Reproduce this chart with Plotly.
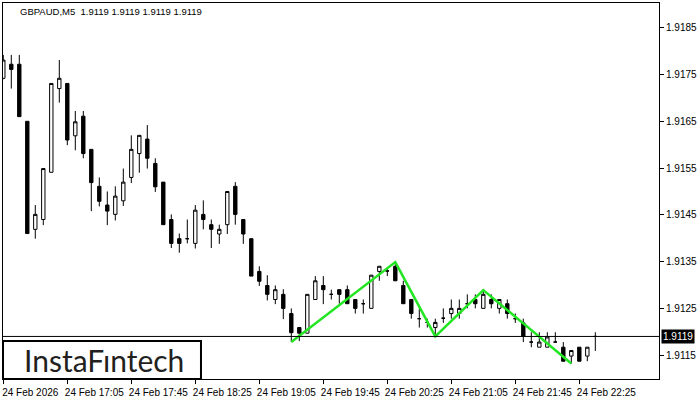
import pandas as pd
import plotly.graph_objects as go

# GBPAUD M5 candles, 24 Feb 2026 from 16:25
times = pd.date_range("2026-02-24 16:25", periods=75, freq="5min")

opens = [1.91742, 1.91772, 1.91772, 1.91650, 1.91419, 1.91440, 1.91541, 1.91720, 1.91731, 1.91619,
         1.91661, 1.91590, 1.91511, 1.91471, 1.91451, 1.91480, 1.91530, 1.91581, 1.91612, 1.91560,
         1.91520, 1.91440, 1.91399, 1.91399, 1.91389, 1.91451, 1.91429, 1.91409, 1.91429, 1.91511,
         1.91440, 1.91399, 1.91329, 1.91299, 1.91269, 1.91280, 1.91239, 1.91209, 1.91197, 1.91269,
         1.91299, 1.91280, 1.91290, 1.91290, 1.91269, 1.91260, 1.91250, 1.91329, 1.91330, 1.91340,
         1.91299, 1.91269, 1.91228, 1.91220, 1.91209, 1.91229, 1.91239, 1.91239, 1.91260, 1.91269,
         1.91250, 1.91269, 1.91250, 1.91260, 1.91228, 1.91219, 1.91178, 1.91167, 1.91167, 1.91178,
         1.91167, 1.91148, 1.91167, 1.91148, 1.91190]
highs = [1.91792, 1.91792, 1.91792, 1.91650, 1.91471, 1.91549, 1.91731, 1.91781, 1.91731, 1.91672,
         1.91672, 1.91590, 1.91530, 1.91500, 1.91511, 1.91549, 1.91620, 1.91620, 1.91642, 1.91571,
         1.91520, 1.91451, 1.91410, 1.91440, 1.91471, 1.91481, 1.91440, 1.91429, 1.91500, 1.91520,
         1.91440, 1.91399, 1.91340, 1.91321, 1.91299, 1.91291, 1.91250, 1.91209, 1.91280, 1.91319,
         1.91319, 1.91290, 1.91290, 1.91299, 1.91269, 1.91269, 1.91321, 1.91340, 1.91336, 1.91349,
         1.91309, 1.91269, 1.91250, 1.91228, 1.91228, 1.91250, 1.91269, 1.91269, 1.91280, 1.91280,
         1.91289, 1.91280, 1.91269, 1.91269, 1.91239, 1.91228, 1.91199, 1.91199, 1.91199, 1.91199,
         1.91178, 1.91160, 1.91167, 1.91167, 1.91199]
lows = [1.91740, 1.91720, 1.91660, 1.91410, 1.91399, 1.91428, 1.91541, 1.91690, 1.91599, 1.91588,
        1.91571, 1.91458, 1.91468, 1.91428, 1.91438, 1.91469, 1.91518, 1.91540, 1.91549, 1.91499,
        1.91429, 1.91379, 1.91369, 1.91389, 1.91378, 1.91419, 1.91379, 1.91388, 1.91409, 1.91429,
        1.91388, 1.91319, 1.91298, 1.91267, 1.91259, 1.91227, 1.91178, 1.91180, 1.91197, 1.91269,
        1.91259, 1.91269, 1.91260, 1.91260, 1.91239, 1.91239, 1.91250, 1.91309, 1.91319, 1.91309,
        1.91260, 1.91228, 1.91209, 1.91209, 1.91190, 1.91219, 1.91228, 1.91228, 1.91250, 1.91250,
        1.91250, 1.91250, 1.91239, 1.91228, 1.91219, 1.91178, 1.91167, 1.91167, 1.91167, 1.91178,
        1.91137, 1.91132, 1.91137, 1.91137, 1.91159]
closes = [1.91781, 1.91761, 1.91660, 1.91410, 1.91451, 1.91549, 1.91731, 1.91742, 1.91610, 1.91649,
          1.91581, 1.91519, 1.91479, 1.91458, 1.91490, 1.91520, 1.91590, 1.91620, 1.91571, 1.91510,
          1.91429, 1.91389, 1.91389, 1.91399, 1.91460, 1.91440, 1.91419, 1.91419, 1.91500, 1.91451,
          1.91409, 1.91319, 1.91308, 1.91280, 1.91290, 1.91250, 1.91198, 1.91197, 1.91280, 1.91309,
          1.91290, 1.91280, 1.91280, 1.91260, 1.91250, 1.91260, 1.91321, 1.91340, 1.91330, 1.91309,
          1.91260, 1.91239, 1.91228, 1.91220, 1.91220, 1.91229, 1.91250, 1.91250, 1.91260, 1.91260,
          1.91280, 1.91260, 1.91269, 1.91239, 1.91228, 1.91190, 1.91178, 1.91178, 1.91189, 1.91178,
          1.91137, 1.91160, 1.91137, 1.91167, 1.91190]

# pattern vertices (candle index, price)
pattern_idx = [36, 49, 54, 60, 71]
pattern_price = [1.91178, 1.91349, 1.91190, 1.91289, 1.91132]

last_price = 1.9119

tick_times = ["2026-02-24 16:25", "2026-02-24 17:05", "2026-02-24 17:45", "2026-02-24 18:25",
              "2026-02-24 19:05", "2026-02-24 19:45", "2026-02-24 20:25", "2026-02-24 21:05",
              "2026-02-24 21:45", "2026-02-24 22:25"]
tick_text = ["24 Feb 2026", "24 Feb 17:05", "24 Feb 17:45", "24 Feb 18:25", "24 Feb 19:05",
             "24 Feb 19:45", "24 Feb 20:25", "24 Feb 21:05", "24 Feb 21:45", "24 Feb 22:25"]
price_ticks = [1.9115, 1.9125, 1.9135, 1.9145, 1.9155, 1.9165, 1.9175, 1.9185]

font = "Liberation Sans"

fig = go.Figure()

fig.add_trace(go.Candlestick(
    x=times, open=opens, high=highs, low=lows, close=closes,
    increasing=dict(line=dict(color="black", width=1), fillcolor="white"),
    decreasing=dict(line=dict(color="black", width=1), fillcolor="black"),
    showlegend=False, hoverinfo="skip",
))

fig.add_trace(go.Scatter(
    x=[times[i] for i in pattern_idx], y=pattern_price,
    mode="lines", line=dict(color="#22e622", width=2.5),
    showlegend=False, hoverinfo="skip",
))

# current price line
fig.add_shape(type="line", xref="paper", x0=0, x1=1, yref="y", y0=last_price, y1=last_price,
              line=dict(color="black", width=1))
fig.add_annotation(xref="paper", x=1.003, yref="y", y=last_price, text=f"{last_price:.4f}",
                   showarrow=False, xanchor="left", yanchor="middle", bgcolor="black",
                   font=dict(family=font, size=10, color="white"), borderpad=1)

# header
fig.add_annotation(xref="paper", x=0.0229, yref="paper", y=0.978,
                   text="GBPAUD,M5\u00a0 1.9119 1.9119 1.9119 1.9119", showarrow=False,
                   xanchor="left", yanchor="middle", font=dict(family=font, size=9.5, color="black"))

# logo box
fig.add_shape(type="rect", xref="paper", yref="paper", x0=0.0, x1=0.3018, y0=0.0, y1=0.101,
              line=dict(color="black", width=2), fillcolor="white", layer="above")
fig.add_annotation(xref="paper", x=0.1545, yref="paper", y=0.05, text="InstaF\u0131ntech",
                   showarrow=False, xanchor="center", yanchor="middle",
                   font=dict(family="Lato", size=30, color="#231f20"))

fig.update_layout(
    width=700, height=400,
    margin=dict(l=3, r=41, t=3, b=21, autoexpand=False),
    paper_bgcolor="white", plot_bgcolor="white",
    boxgap=0.4,
    xaxis=dict(
        type="date", range=["2026-02-24 16:24:49", "2026-02-24 23:14:48"],
        rangeslider=dict(visible=False), showgrid=False, zeroline=False, automargin=False,
        showline=True, linecolor="black", linewidth=1, mirror=True,
        tickmode="array", tickvals=tick_times, ticktext=tick_text,
        ticks="outside", ticklen=4, tickcolor="black", ticklabelshift=27, ticklabelstandoff=0,
        tickfont=dict(family=font, size=10, color="black"),
    ),
    yaxis=dict(
        side="right", range=[1.91099, 1.91903], showgrid=False, zeroline=False, automargin=False,
        showline=True, linecolor="black", linewidth=1, mirror=True,
        tickmode="array", tickvals=price_ticks, tickformat=".4f",
        ticks="outside", ticklen=4, tickcolor="black",
        tickfont=dict(family=font, size=10, color="black"),
    ),
)

fig.write_html("out.html", config={"displayModeBar": False},
               post_script="document.body.style.margin='0';")
